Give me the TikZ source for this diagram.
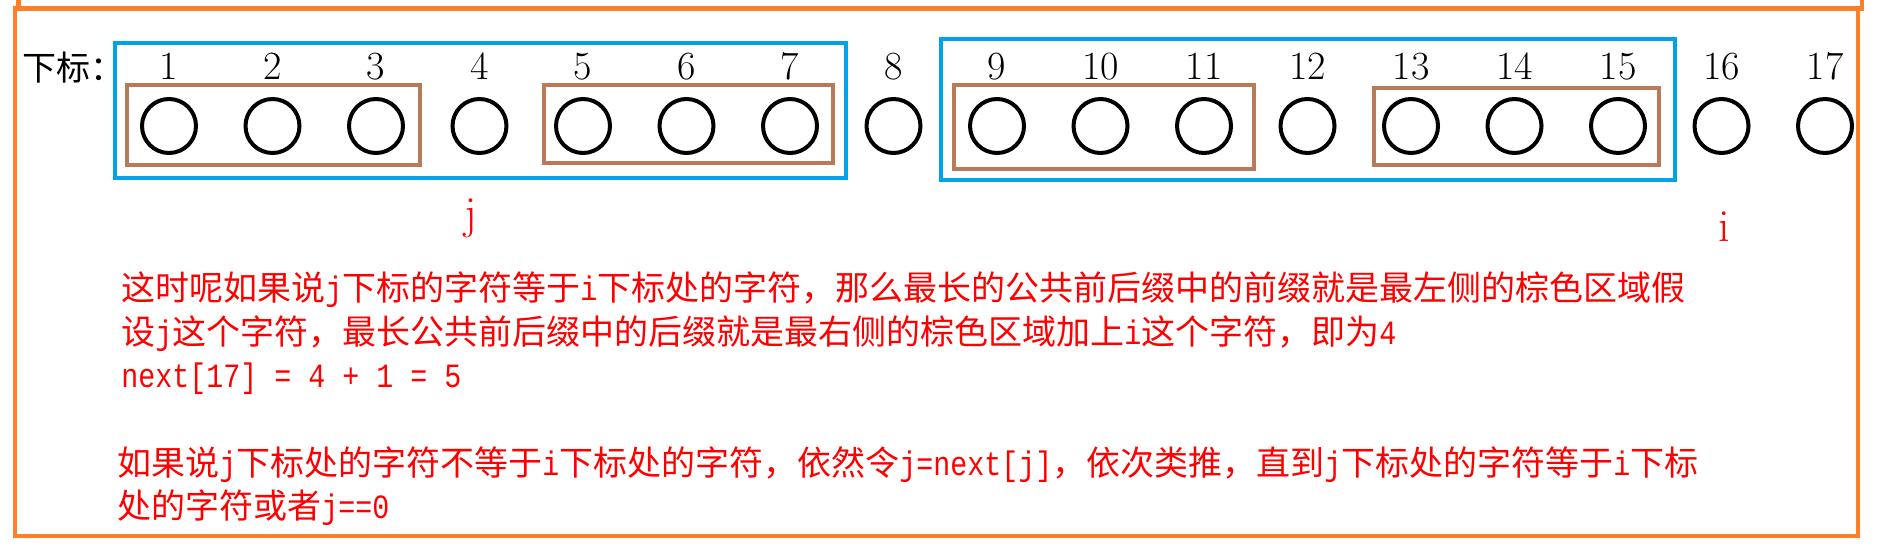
\documentclass[tikz,border=0pt]{standalone}
\usepackage{fontspec}
\usepackage{tikz}
\newfontfamily\cjk{Noto Sans CJK SC}
\newfontfamily\ascii[FakeStretch=0.833]{Liberation Mono}
\newcommand{\as}[1]{{\ascii #1}}
\definecolor{frameorange}{HTML}{FF7F27}
\definecolor{regionblue}{HTML}{00A2E8}
\definecolor{regionbrown}{HTML}{B97A57}
\definecolor{notered}{HTML}{FF0000}
\tikzset{
	bead/.style={shape=circle,draw=black,line width=2pt,minimum size=27pt,inner sep=0pt},
	idx/.style={anchor=base,inner sep=0pt,font=\fontsize{20}{20}\selectfont},
	ptr/.style={anchor=base,inner sep=0pt,text=notered,font=\fontsize{23}{23}\selectfont},
	note/.style={anchor=base west,inner sep=0pt,text=notered,font=\cjk\fontsize{17}{17}\selectfont},
	outer/.style={draw=frameorange,line width=2.3pt},
	bluebox/.style={draw=regionblue,line width=2pt},
	brownbox/.style={draw=regionbrown,line width=2pt}
}

\begin{document}
\begin{tikzpicture}[x=0.5pt,y=-0.5pt]
	\useasboundingbox (0,0) rectangle (1877,549);
	% frames
	\draw[outer] (18.5,0) -- (18.5,8.5) -- (1862,8.5) -- (1862,0);
	\draw[outer] (15,8.5) rectangle (1858,536);
	\draw[bluebox] (115,43) rectangle (846,178);
	\draw[bluebox] (941,39) rectangle (1675,180);
	\draw[brownbox] (127,85) rectangle (420,165);
	\draw[brownbox] (544,85) rectangle (833,163);
	\draw[brownbox] (954,85) rectangle (1254,169);
	\draw[brownbox] (1374,88) rectangle (1659,165);
	\node[anchor=base west,inner sep=0pt,font=\cjk\fontsize{17}{17}\selectfont] (sub) at (22,81) {下标：};
	% the string
	\node[bead] (c1)  at (169,126)    {};
	\node[bead] (c2)  at (272.5,126)  {};
	\node[bead] (c3)  at (376,126)    {};
	\node[bead] (c4)  at (479.5,126)  {};
	\node[bead] (c5)  at (583,126)    {};
	\node[bead] (c6)  at (686.5,126)  {};
	\node[bead] (c7)  at (790,126)    {};
	\node[bead] (c8)  at (893.5,126)  {};
	\node[bead] (c9)  at (997,126)    {};
	\node[bead] (c10) at (1100.5,126) {};
	\node[bead] (c11) at (1204,126)   {};
	\node[bead] (c12) at (1307.5,126) {};
	\node[bead] (c13) at (1411,126)   {};
	\node[bead] (c14) at (1514.5,126) {};
	\node[bead] (c15) at (1618,126)   {};
	\node[bead] (c16) at (1721.5,126) {};
	\node[bead] (c17) at (1825,126)   {};
	% indices
	\node[idx] (n1)  at (169,80)    {1};
	\node[idx] (n2)  at (272.5,80)  {2};
	\node[idx] (n3)  at (376,80)    {3};
	\node[idx] (n4)  at (479.5,80)  {4};
	\node[idx] (n5)  at (583,80)    {5};
	\node[idx] (n6)  at (686.5,80)  {6};
	\node[idx] (n7)  at (790,80)    {7};
	\node[idx] (n8)  at (893.5,80)  {8};
	\node[idx] (n9)  at (997,80)    {9};
	\node[idx] (n10) at (1100.5,80) {10};
	\node[idx] (n11) at (1204,80)   {11};
	\node[idx] (n12) at (1307.5,80) {12};
	\node[idx] (n13) at (1411,80)   {13};
	\node[idx] (n14) at (1514.5,80) {14};
	\node[idx] (n15) at (1618,80)   {15};
	\node[idx] (n16) at (1721.5,80) {16};
	\node[idx] (n17) at (1825,80)   {17};
	\node[ptr] (j) at (471,229)  {j};
	\node[ptr] (i) at (1724,242) {i};
	% explanation
	\node[note] (line1) at (121,301) {这时呢如果说\as{j}下标的字符等于\as{i}下标处的字符，那么最长的公共前后缀中的前缀就是最左侧的棕色区域假};
	\node[note] (line2) at (121,345) {设\as{j}这个字符，最长公共前后缀中的后缀就是最右侧的棕色区域加上\as{i}这个字符，即为\as{4}};
	\node[note] (line3) at (121,388) {\as{next[17] = 4 + 1 = 5}};
	\node[note] (line4) at (117,475) {如果说\as{j}下标处的字符不等于\as{i}下标处的字符，依然令\as{j=next[j]}，依次类推，直到\as{j}下标处的字符等于\as{i}下标};
	\node[note] (line5) at (117,518) {处的字符或者\as{j==0}};
\end{tikzpicture}
\end{document}
